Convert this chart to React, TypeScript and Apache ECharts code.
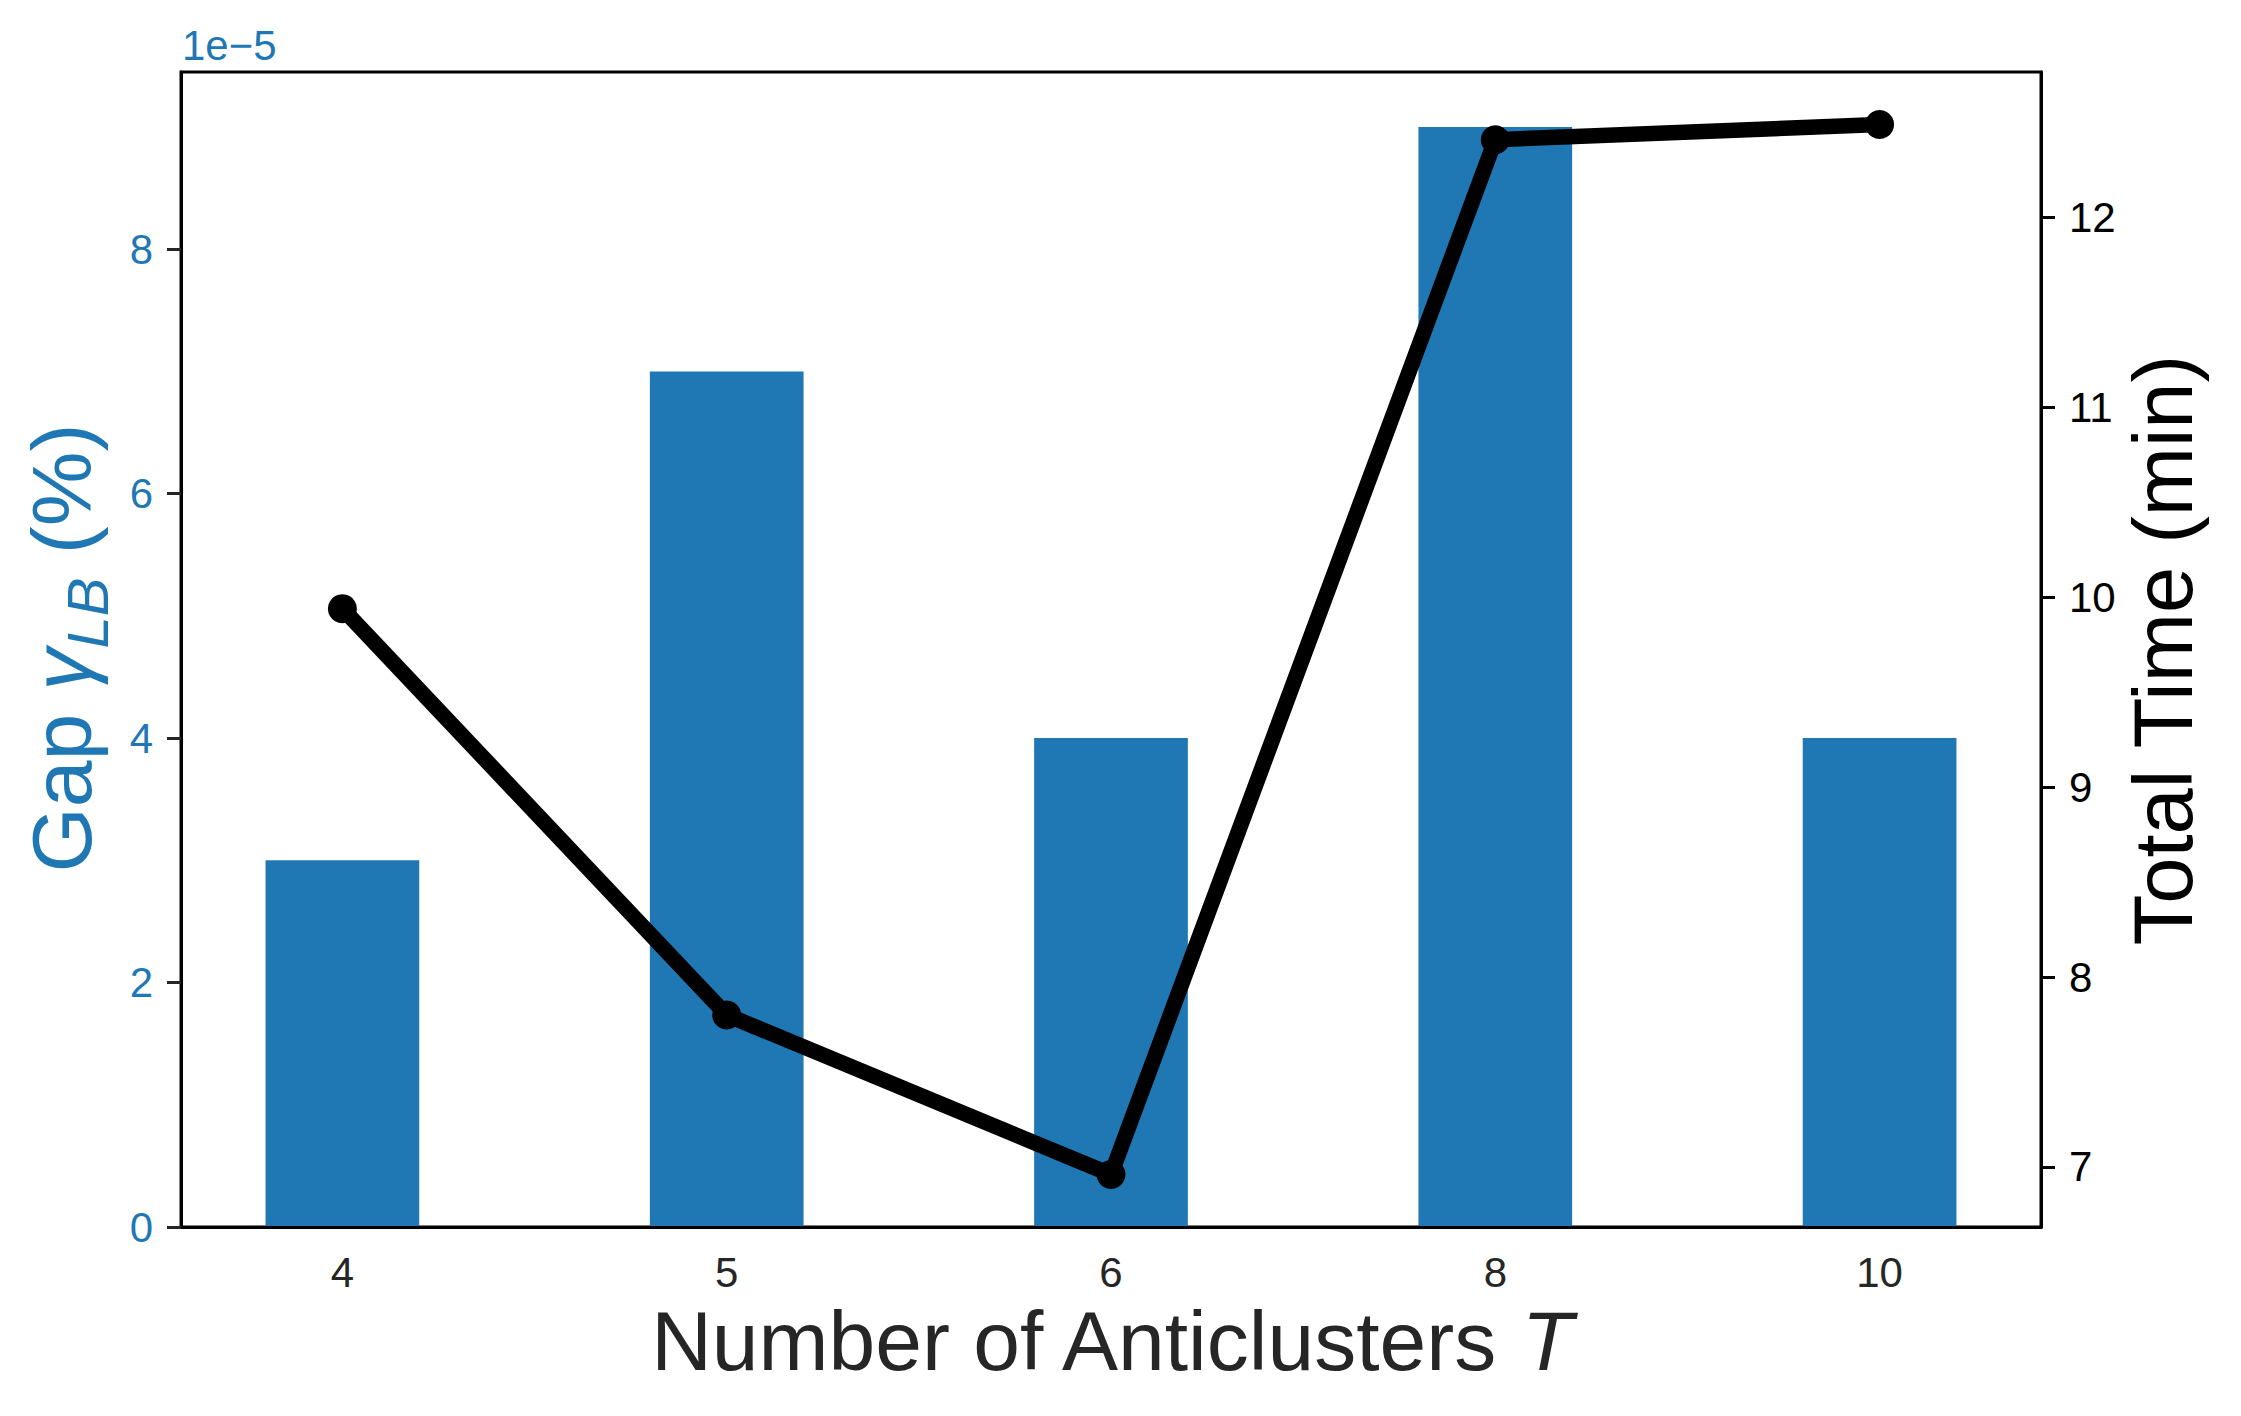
import React, { useEffect, useRef } from "react";
import * as echarts from "echarts";

// ---- data ----
const categories = ["4", "5", "6", "8", "10"];
const gapValues = [3e-5, 7e-5, 4e-5, 9e-5, 4e-5];
const timeValues = [9.94, 7.8, 6.96, 12.41, 12.49];
const gapTickValues = [0, 2e-5, 4e-5, 6e-5, 8e-5];
const gapTickLabels = ["0", "2", "4", "6", "8"];
const timeTickValues = [7, 8, 9, 10, 11, 12];
const gapOffsetText = "1e\u22125";
const xTitle = "Number of Anticlusters ";
const xTitleVar = "T";
const rightTitle = "Total Time (min)";

const BLUE = "#1f77b4";
const DARK = "#262626";
const FONT = "Liberation Sans";

export default function App() {
  const ref = useRef<HTMLDivElement>(null);

  useEffect(() => {
    if (!ref.current) return;
    const chart = echarts.init(ref.current, null, { renderer: "svg" });

    const n = categories.length;
    const barW = 0.4;
    const span = n - 1 + barW;
    const xMin = -barW / 2 - 0.05 * span;
    const xMax = n - 1 + barW / 2 + 0.05 * span;
    const gMax = Math.max(...gapValues) * 1.05;
    const tMinD = Math.min(...timeValues);
    const tMaxD = Math.max(...timeValues);
    const tPad = 0.05 * (tMaxD - tMinD);

    const option: any = {
      animation: false,
      backgroundColor: "#ffffff",
      grid: {
        left: 181,
        right: 200,
        top: 72,
        bottom: 189,
        show: true,
        borderColor: "#000",
        borderWidth: 3,
        backgroundColor: "transparent",
      },
      xAxis: {
        type: "value",
        min: xMin,
        max: xMax,
        z: 10,
        axisLine: { show: true, onZero: false, lineStyle: { color: "#000", width: 3 } },
        axisTick: { show: false },
        splitLine: { show: false },
        axisLabel: {
          customValues: categories.map((_, i) => i),
          formatter: (v: number) => categories[Math.round(v)] ?? "",
          color: DARK,
          fontSize: 42,
          fontFamily: FONT,
          margin: 24,
        },
      },
      yAxis: [
        {
          type: "value",
          position: "left",
          min: 0,
          max: gMax,
          z: 10,
          axisLine: { show: true, onZero: false, lineStyle: { color: "#000", width: 3 } },
          axisTick: {
            show: true,
            customValues: gapTickValues,
            length: 14,
            lineStyle: { color: DARK, width: 3 },
          },
          splitLine: { show: false },
          axisLabel: {
            customValues: gapTickValues,
            formatter: (v: number) => {
              const i = gapTickValues.findIndex((t) => Math.abs(t - v) < 1e-9);
              return i >= 0 ? gapTickLabels[i] : "";
            },
            color: BLUE,
            fontSize: 42,
            fontFamily: FONT,
            margin: 28,
          },
        },
        {
          type: "value",
          position: "right",
          min: tMinD - tPad,
          max: tMaxD + tPad,
          z: 10,
          axisLine: { show: true, onZero: false, lineStyle: { color: "#000", width: 3 } },
          axisTick: {
            show: true,
            customValues: timeTickValues,
            length: 14,
            lineStyle: { color: "#000", width: 3 },
          },
          splitLine: { show: false },
          axisLabel: {
            customValues: timeTickValues,
            formatter: (v: number) => String(Math.round(v)),
            color: "#000",
            fontSize: 42,
            fontFamily: FONT,
            margin: 28,
          },
        },
      ],
      series: [
        {
          type: "bar",
          yAxisIndex: 0,
          data: gapValues.map((v, i) => [i, v]),
          barWidth: "40%",
          itemStyle: { color: BLUE },
          z: 2,
        },
        {
          type: "line",
          yAxisIndex: 1,
          data: timeValues.map((v, i) => [i, v]),
          symbol: "circle",
          symbolSize: 29,
          lineStyle: { color: "#000", width: 15.5, join: "round" },
          itemStyle: { color: "#000" },
          z: 5,
        },
      ],
      graphic: [
        {
          type: "text",
          x: 182,
          y: 45,
          style: {
            text: gapOffsetText,
            fill: BLUE,
            fontSize: 42,
            fontFamily: FONT,
            align: "left",
            verticalAlign: "middle",
          },
        },
        {
          type: "text",
          x: 62,
          y: 648,
          rotation: Math.PI / 2,
          style: {
            text: "{n|Gap }{g|\u03B3}{s|LB}{n| (%)}",
            align: "center",
            verticalAlign: "middle",
            rich: {
              n: { fontSize: 84, fontFamily: FONT, fill: BLUE, lineHeight: 109 },
              g: { fontSize: 84, fontFamily: FONT, fontStyle: "italic", fill: BLUE, lineHeight: 109 },
              s: {
                fontSize: 58,
                fontFamily: FONT,
                fontStyle: "italic",
                fill: BLUE,
                lineHeight: 57,
                verticalAlign: "bottom",
              },
            },
          },
        },
        {
          type: "text",
          x: 2163,
          y: 650,
          rotation: Math.PI / 2,
          style: {
            text: rightTitle,
            fill: "#000",
            fontSize: 83,
            fontFamily: FONT,
            align: "center",
            verticalAlign: "middle",
          },
        },
        {
          type: "text",
          x: 1111,
          y: 1341,
          style: {
            text: `{n|${xTitle}}{t|${xTitleVar}}`,
            align: "center",
            verticalAlign: "middle",
            rich: {
              n: { fontSize: 84, fontFamily: FONT, fill: DARK },
              t: { fontSize: 84, fontFamily: FONT, fontStyle: "italic", fill: DARK },
            },
          },
        },
      ],
    };

    chart.setOption(option);
    return () => chart.dispose();
  }, []);

  return (
    <div
      ref={ref}
      style={{ position: "absolute", left: 0, top: 0, width: 2241, height: 1416, background: "#fff" }}
    />
  );
}
